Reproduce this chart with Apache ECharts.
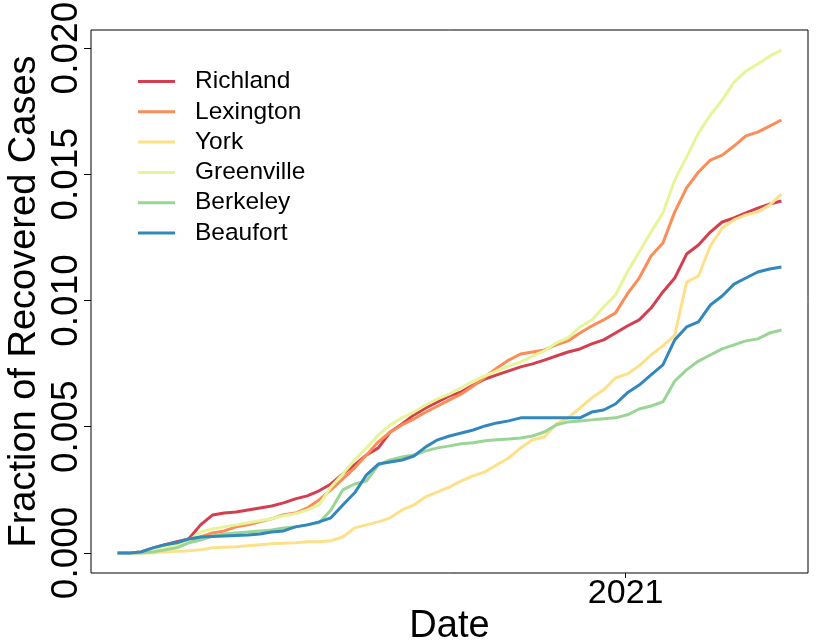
<!DOCTYPE html>
<html>
<head>
<meta charset="utf-8">
<script src="https://cdn.jsdelivr.net/npm/echarts@6/dist/echarts.min.js"></script>
<style>
  html, body { margin: 0; padding: 0; background: #fff; }
  #chart { width: 830px; height: 642px; }
</style>
</head>
<body>
<div id="chart"></div>
<script>
// weekly samples, first one on 2020-03-07
const startDay = Date.UTC(2020, 2, 7)
const weekMs = 7 * 86400000
const nWeeks = 57
const dates = []
for (let i = 0; i < nWeeks; i++) dates.push(startDay + i * weekMs)

const counties = ['Richland', 'Lexington', 'York', 'Greenville', 'Berkeley', 'Beaufort']
const colors = ['#D53E4F', '#FC8D59', '#FEE08B', '#E6F598', '#99D594', '#3288BD']

// fraction of recovered cases
const richland = [0, 0, 0.00004, 0.00020, 0.00032, 0.00044, 0.00055, 0.00111, 0.00150, 0.00158, 0.00162, 0.00170, 0.00178, 0.00186, 0.00198, 0.00214, 0.00226, 0.00246, 0.00273, 0.00313, 0.00349, 0.00388, 0.00416, 0.00479, 0.00511, 0.00547, 0.00574, 0.00598, 0.00622, 0.00638, 0.00665, 0.00689, 0.00705, 0.00721, 0.00737, 0.00749, 0.00764, 0.00780, 0.00796, 0.00808, 0.00828, 0.00844, 0.00871, 0.00899, 0.00923, 0.00970, 0.01034, 0.01089, 0.01184, 0.01220, 0.01271, 0.01311, 0.01327, 0.01347, 0.01366, 0.01382, 0.01394]
const lexington = [0, 0, 0.00002, 0.00016, 0.00024, 0.00036, 0.00048, 0.00063, 0.00079, 0.00087, 0.00103, 0.00111, 0.00123, 0.00135, 0.00151, 0.00158, 0.00178, 0.00210, 0.00250, 0.00293, 0.00337, 0.00388, 0.00440, 0.00479, 0.00507, 0.00531, 0.00558, 0.00582, 0.00606, 0.00630, 0.00661, 0.00697, 0.00733, 0.00764, 0.00788, 0.00796, 0.00804, 0.00824, 0.00840, 0.00871, 0.00899, 0.00923, 0.00951, 0.01026, 0.01089, 0.01176, 0.01228, 0.01351, 0.01446, 0.01509, 0.01556, 0.01576, 0.01612, 0.01652, 0.01667, 0.01691, 0.01715]
const york = [0, 0, 0, 0, 0.00004, 0.00006, 0.00008, 0.00012, 0.00020, 0.00022, 0.00024, 0.00028, 0.00032, 0.00036, 0.00038, 0.00040, 0.00044, 0.00044, 0.00048, 0.00063, 0.00099, 0.00111, 0.00123, 0.00139, 0.00170, 0.00190, 0.00222, 0.00242, 0.00261, 0.00285, 0.00305, 0.00321, 0.00349, 0.00376, 0.00416, 0.00448, 0.00459, 0.00511, 0.00535, 0.00574, 0.00614, 0.00646, 0.00693, 0.00709, 0.00741, 0.00784, 0.00820, 0.00863, 0.01073, 0.01097, 0.01216, 0.01287, 0.01319, 0.01339, 0.01351, 0.01378, 0.01422]
const greenville = [0, 0, 0, 0.00012, 0.00020, 0.00032, 0.00048, 0.00083, 0.00095, 0.00103, 0.00111, 0.00119, 0.00127, 0.00135, 0.00147, 0.00155, 0.00170, 0.00190, 0.00261, 0.00313, 0.00368, 0.00416, 0.00467, 0.00507, 0.00535, 0.00558, 0.00586, 0.00610, 0.00630, 0.00654, 0.00681, 0.00701, 0.00721, 0.00741, 0.00756, 0.00780, 0.00800, 0.00832, 0.00852, 0.00895, 0.00923, 0.00974, 0.01022, 0.01113, 0.01192, 0.01271, 0.01347, 0.01477, 0.01568, 0.01663, 0.01735, 0.01794, 0.01865, 0.01909, 0.01937, 0.01968, 0.01992]
const berkeley = [0, 0, 0, 0.00004, 0.00012, 0.00020, 0.00040, 0.00051, 0.00067, 0.00075, 0.00079, 0.00083, 0.00087, 0.00091, 0.00099, 0.00103, 0.00111, 0.00119, 0.00170, 0.00250, 0.00273, 0.00285, 0.00349, 0.00368, 0.00380, 0.00388, 0.00404, 0.00416, 0.00424, 0.00432, 0.00436, 0.00444, 0.00448, 0.00451, 0.00455, 0.00463, 0.00479, 0.00507, 0.00519, 0.00523, 0.00527, 0.00531, 0.00535, 0.00547, 0.00570, 0.00582, 0.00598, 0.00681, 0.00725, 0.00760, 0.00784, 0.00808, 0.00824, 0.00840, 0.00848, 0.00871, 0.00883]
const beaufort = [0, 0, 0.00004, 0.00020, 0.00032, 0.00040, 0.00055, 0.00063, 0.00065, 0.00067, 0.00069, 0.00071, 0.00075, 0.00083, 0.00087, 0.00103, 0.00111, 0.00123, 0.00139, 0.00190, 0.00238, 0.00309, 0.00352, 0.00360, 0.00368, 0.00384, 0.00420, 0.00448, 0.00463, 0.00475, 0.00487, 0.00503, 0.00515, 0.00523, 0.00535, 0.00535, 0.00535, 0.00535, 0.00535, 0.00535, 0.00558, 0.00566, 0.00590, 0.00634, 0.00665, 0.00705, 0.00745, 0.00844, 0.00895, 0.00915, 0.00982, 0.01018, 0.01065, 0.01089, 0.01113, 0.01125, 0.01133]

const yTicks = [0, 0.005, 0.010, 0.015, 0.020]
const xTicks = [Date.UTC(2021, 0, 1)]

const allSeries = [richland, lexington, york, greenville, berkeley, beaufort]

// R style 4% padding round the data
const xPad = 0.04 * (dates[dates.length - 1] - dates[0])
const yMax = Math.max(...allSeries.map(s => Math.max(...s)))
const yPad = 0.04 * yMax

const font = 'Liberation Sans'

let myChart = echarts.init(document.getElementById('chart'), null, { renderer: 'canvas' })
myChart.setOption({
  backgroundColor: '#fff',
  animation: false,
  grid: {
    left: 91,
    right: 22,
    top: 30,
    bottom: 69,
    show: true,
    borderColor: '#000',
    borderWidth: 1,
    outerBoundsMode: 'none',
  },
  legend: {
    orient: 'vertical',
    left: 138,
    top: 69,
    padding: 0,
    itemGap: 5.3,
    itemWidth: 37,
    itemHeight: 3,
    icon: 'rect',
    data: counties,
    textStyle: {
      fontFamily: font,
      fontSize: 24.5,
      lineHeight: 24,
      color: '#000',
      padding: [0, 0, 0, 15],
    },
  },
  xAxis: {
    type: 'value',
    min: dates[0] - xPad,
    max: dates[dates.length - 1] + xPad,
    name: 'Date',
    nameLocation: 'middle',
    nameGap: 35,
    nameMoveOverlap: false,
    nameTextStyle: { fontFamily: font, fontSize: 38, color: '#000' },
    axisLine: { show: false, onZero: false },
    splitLine: { show: false },
    axisTick: { show: true, customValues: xTicks, length: 5, lineStyle: { color: '#000' } },
    axisLabel: {
      customValues: xTicks,
      formatter: v => String(new Date(v).getUTCFullYear()),
      fontFamily: font,
      fontSize: 34,
      color: '#000',
      margin: 4,
    },
  },
  yAxis: {
    type: 'value',
    min: -yPad,
    max: yMax + yPad,
    name: 'Fraction of Recovered Cases',
    nameLocation: 'middle',
    nameGap: 47,
    nameMoveOverlap: false,
    nameTextStyle: { fontFamily: font, fontSize: 38, color: '#000' },
    axisLine: { show: false, onZero: false },
    splitLine: { show: false },
    axisTick: { show: true, customValues: yTicks, length: 7, lineStyle: { color: '#000' } },
    axisLabel: {
      customValues: yTicks,
      formatter: v => v.toFixed(3),
      rotate: 90,
      fontFamily: font,
      fontSize: 37,
      color: '#000',
      margin: 6,
    },
  },
  series: counties.map((name, k) => ({
    name: name,
    type: 'line',
    showSymbol: false,
    symbol: 'none',
    data: dates.map((d, i) => [d, allSeries[k][i]]),
    itemStyle: { color: colors[k] },
    lineStyle: { color: colors[k], width: 3 },
    z: 2 + k,
  })),
})
</script>
</body>
</html>
